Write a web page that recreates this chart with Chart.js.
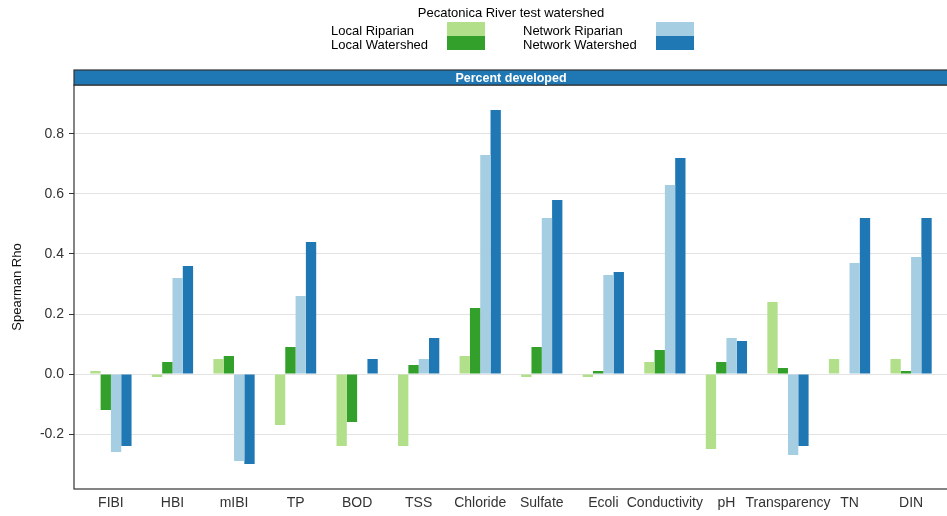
<!DOCTYPE html>
<html>
<head>
<meta charset="utf-8">
<script src="https://cdn.jsdelivr.net/npm/chart.js@4"></script>
<style>
  html, body { margin: 0; padding: 0; background: #fff; overflow: hidden; }
</style>
</head>
<body>
<canvas id="myChart" width="950" height="516"></canvas>
<script>
const categories = ["FIBI","HBI","mIBI","TP","BOD","TSS","Chloride","Sulfate","Ecoli","Conductivity","pH","Transparency","TN","DIN"]
const localRiparian    = [0.01,-0.01,0.05,-0.17,-0.24,-0.24,0.06,-0.01,-0.01,0.04,-0.25,0.24,0.05,0.05]
const localWatershed   = [-0.12,0.04,0.06,0.09,-0.16,0.03,0.22,0.09,0.01,0.08,0.04,0.02,null,0.01]
const networkRiparian  = [-0.26,0.32,-0.29,0.26,null,0.05,0.73,0.52,0.33,0.63,0.12,-0.27,0.37,0.39]
const networkWatershed = [-0.24,0.36,-0.30,0.44,0.05,0.12,0.88,0.58,0.34,0.72,0.11,-0.24,0.52,0.52]
const yTicks = [-0.2,0.0,0.2,0.4,0.6,0.8]

Chart.defaults.font.family = "'Liberation Sans', Arial, sans-serif"
Chart.defaults.color = "#333"

function series(label, values, color) {
    return {
        label: label,
        data: values.map((v, i) => ({x: i, y: v})),
        backgroundColor: color,
        categoryPercentage: 0.67,
        barPercentage: 1.0
    }
}

// panel border, facet strip and the two-column legend
const panelDecor = {
    id: "panelDecor",
    afterDraw(chart) {
        const ctx = chart.ctx
        const a = chart.chartArea
        ctx.save()

        ctx.strokeStyle = "#333"
        ctx.lineWidth = 1.2
        ctx.strokeRect(a.left, a.top, a.right - a.left, a.bottom - a.top)

        ctx.fillStyle = "#1f78b4"
        ctx.fillRect(a.left, a.top - 15, a.right - a.left, 15)
        ctx.strokeRect(a.left, a.top - 15, a.right - a.left, 15)
        ctx.fillStyle = "#fff"
        ctx.font = "bold 12.5px 'Liberation Sans', Arial, sans-serif"
        ctx.textAlign = "center"
        ctx.textBaseline = "middle"
        const mid = (a.left + a.right) / 2
        ctx.fillText("Percent developed", mid, a.top - 6.5)

        ctx.fillStyle = "#000"
        ctx.font = "13px 'Liberation Sans', Arial, sans-serif"
        ctx.fillText("Pecatonica River test watershed", mid, 13)

        const cols = [{tx: 331, kx: 447}, {tx: 523, kx: 656}]
        const rows = [22, 36]
        ctx.textAlign = "left"
        chart.data.datasets.forEach((ds, i) => {
            const c = cols[Math.floor(i / 2)]
            const y = rows[i % 2]
            ctx.fillStyle = ds.backgroundColor
            ctx.fillRect(c.kx, y, 38, 14)
            ctx.fillStyle = "#000"
            ctx.fillText(ds.label, c.tx, y + 9)
        })
        ctx.restore()
    }
}

var myChart = new Chart(document.querySelector("#myChart").getContext("2d"), {
    type: "bar",
    data: {
        datasets: [
            series("Local Riparian", localRiparian, "#b2df8a"),
            series("Local Watershed", localWatershed, "#33a02c"),
            series("Network Riparian", networkRiparian, "#a6cee3"),
            series("Network Watershed", networkWatershed, "#1f78b4")
        ]
    },
    options: {
        responsive: false,
        animation: false,
        layout: { padding: { top: 85, right: 2, bottom: 0, left: 0 } },
        plugins: { legend: { display: false }, tooltip: { enabled: false } },
        scales: {
            x: {
                type: "linear",
                offset: false,
                min: -0.6,
                max: 13.6,
                afterBuildTicks: s => { s.ticks = categories.map((c, i) => ({value: i})) },
                afterFit: s => { s.height = 27 },
                ticks: {
                    autoSkip: false,
                    maxRotation: 0,
                    padding: 6,
                    color: "#333",
                    font: { size: 14 },
                    callback: v => categories[v]
                },
                grid: { display: false, drawTicks: false, offset: false },
                border: { display: false }
            },
            y: {
                min: -0.3833,
                max: 0.9633,
                afterBuildTicks: s => { s.ticks = yTicks.map(v => ({value: v})) },
                afterFit: s => { s.width = 74 },
                ticks: {
                    padding: 5,
                    color: "#333",
                    font: { size: 14 },
                    callback: v => v.toFixed(1)
                },
                grid: { color: "#e3e3e3", tickColor: "#333", tickLength: 5 },
                border: { display: false },
                title: {
                    display: true,
                    text: "Spearman Rho",
                    color: "#111",
                    font: { size: 13 },
                    padding: { top: 10, bottom: 0 }
                }
            }
        }
    },
    plugins: [panelDecor]
});
</script>
</body>
</html>
